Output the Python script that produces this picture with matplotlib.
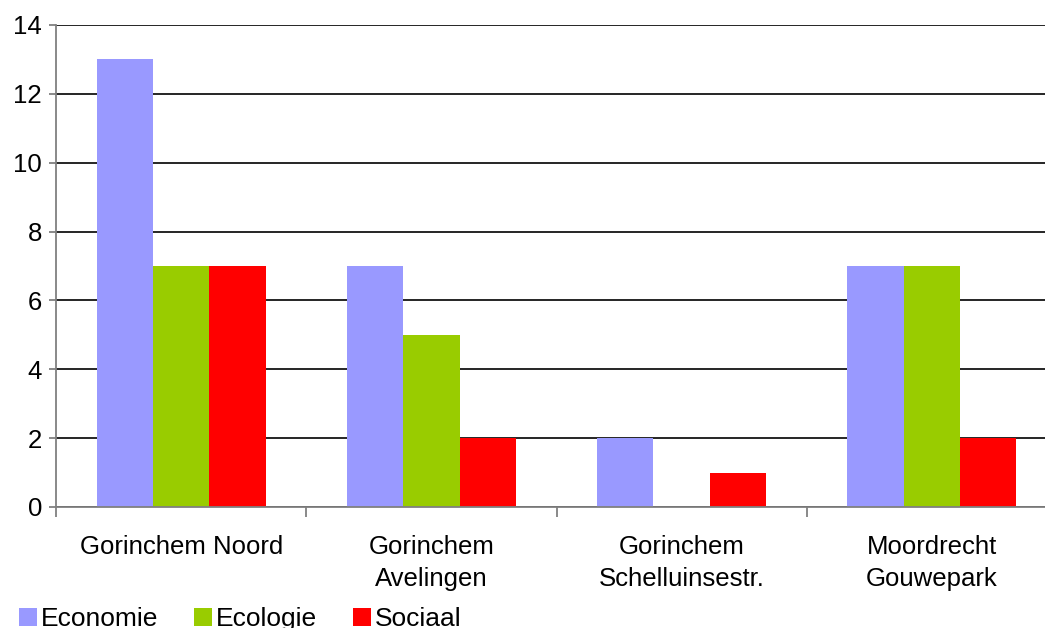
import numpy as np
import matplotlib.pyplot as plt

plt.rcParams['font.family'] = ['Liberation Sans', 'DejaVu Sans']

categories = ["Gorinchem Noord", "Gorinchem\nAvelingen", "Gorinchem\nSchelluinsestr.", "Moordrecht\nGouwepark"]
economie = [13, 7, 2, 7]
ecologie = [7, 5, 0, 7]
sociaal = [7, 2, 1, 2]
series = [("Economie", economie, "#9999FF"),
          ("Ecologie", ecologie, "#99CC00"),
          ("Sociaal", sociaal, "#FF0000")]

fig = plt.figure(figsize=(10.45, 6.28), dpi=100)
ax = fig.add_axes([56 / 1045, 1 - 507 / 628, 1001 / 1045, 482 / 628])

x = np.arange(len(categories))
w = 0.225
for k, (name, vals, col) in enumerate(series):
    ax.bar(x + (k - 1) * w, vals, width=w, color=col, label=name, zorder=2)

ax.set_xlim(-0.5, len(categories) - 0.5)
ax.set_ylim(0, 14)
ax.set_yticks(range(0, 15, 2))
ax.yaxis.grid(True, color="black", linewidth=1.2, zorder=0)
ax.set_axisbelow(True)

ax.set_xticks(np.arange(len(categories) + 1) - 0.5)
ax.set_xticklabels([])
ax.set_xticks(x, categories, minor=True)
ax.tick_params(axis="x", which="major", length=7, width=1.3, color="#808080", direction="out")
ax.tick_params(axis="x", which="minor", length=0, labelsize=18.5, pad=20)
ax.tick_params(axis="y", length=5, width=1.3, color="#808080", labelsize=18.5, pad=5)
for lbl in ax.get_xticklabels(minor=True):
    lbl.set_linespacing(1.42)

for s in ["top", "right"]:
    ax.spines[s].set_visible(False)
for s in ["left", "bottom"]:
    ax.spines[s].set_color("#808080")
    ax.spines[s].set_linewidth(1.3)

fig.legend(loc="upper left", bbox_to_anchor=(0.008, 0.05), ncol=3, frameon=False,
           fontsize=19, handlelength=0.68, handleheight=0.68, handletextpad=0.15,
           columnspacing=1.36, borderaxespad=0)

fig.savefig("out.png", dpi=100)
